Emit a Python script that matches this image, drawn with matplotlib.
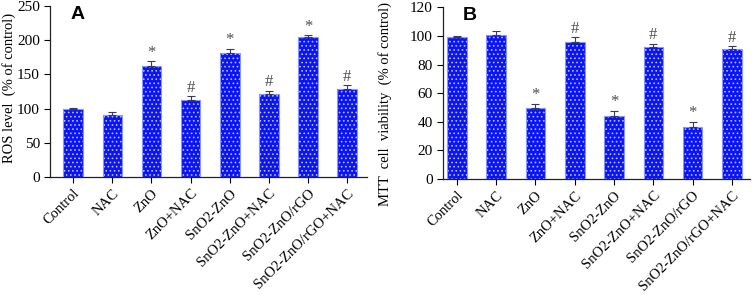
import matplotlib
matplotlib.use("Agg")
import matplotlib.pyplot as plt
import numpy as np

groups = ["Control", "NAC", "ZnO", "ZnO+NAC", "SnO2-ZnO", "SnO2-ZnO+NAC",
          "SnO2-ZnO/rGO", "SnO2-ZnO/rGO+NAC"]

# panel A: ROS level
ros = [100, 91, 162, 112, 181, 121, 204, 128]
ros_err = [1, 4, 7, 6, 6, 5, 3, 6]
ros_sig = ["", "", "*", "#", "*", "#", "*", "#"]

# panel B: MTT viability
mtt = [99.5, 101, 50, 96, 44, 92, 36.5, 91]
mtt_err = [0.5, 2.5, 2.8, 3, 3.5, 2.5, 3.5, 1.8]
mtt_sig = ["", "", "*", "#", "*", "#", "*", "#"]

plt.rcParams["font.family"] = ["Liberation Serif", "DejaVu Serif"]
plt.rcParams["hatch.linewidth"] = 0.7

fig = plt.figure(figsize=(7.53, 2.95), dpi=100)
axA = fig.add_axes([0.066, 0.40, 0.421, 0.58])
axB = fig.add_axes([0.588, 0.393, 0.408, 0.582])


def draw(ax, vals, errs, sig, ymax, ystep, ylabel, letter, xlo, xhi, off,
         lab_x, lab_y):
    x = np.arange(len(groups))
    ax.bar(x, vals, width=0.5, color="#0a14f5", edgecolor="#b4bcff",
           hatch="....", linewidth=0, zorder=2)
    ax.bar(x, vals, width=0.5, fill=False, edgecolor="#8a96ff",
           linewidth=0.8, zorder=3)
    ax.errorbar(x, vals, yerr=[np.zeros(len(vals)), errs], fmt="none",
                ecolor="#3a3a5a", elinewidth=0.8, capsize=3, capthick=0.8,
                zorder=4)
    for i, s in enumerate(sig):
        if s:
            ax.text(x[i], vals[i] + errs[i] + off, s, ha="center", va="bottom",
                    fontsize=12, color="#505050")
    ax.set_xlim(xlo, xhi)
    ax.set_ylim(0, ymax)
    ax.set_yticks(np.arange(0, ymax + 1, ystep))
    ax.set_xticks(x)
    ax.set_xticklabels(groups, rotation=45, ha="right", rotation_mode="anchor",
                       fontsize=10.5)
    ax.tick_params(axis="y", labelsize=11, length=4, width=0.8, direction="out",
                   pad=3)
    ax.tick_params(axis="x", length=4, width=0.8, direction="out", pad=3)
    for sp in ["top", "right"]:
        ax.spines[sp].set_visible(False)
    for sp in ["left", "bottom"]:
        ax.spines[sp].set_linewidth(0.9)
        ax.spines[sp].set_color("#222222")
    ax.set_ylabel(ylabel, fontsize=10.5)
    ax.yaxis.set_label_coords(lab_x, lab_y)
    ax.text(0.065, 1.0, letter, transform=ax.transAxes, fontsize=14,
            fontweight="bold", family="Liberation Sans", ha="left", va="top")


draw(axA, ros, ros_err, ros_sig, 250, 50, "ROS level  (% of control)", "A",
     -0.6, 7.5, 1, -0.105, 0.52)
draw(axB, mtt, mtt_err, mtt_sig, 120, 20,
     "MTT  cell  viability  (% of control)", "B",
     -0.36, 7.46, 0.5, -0.165, 0.44)

fig.savefig("out.png", dpi=100)
